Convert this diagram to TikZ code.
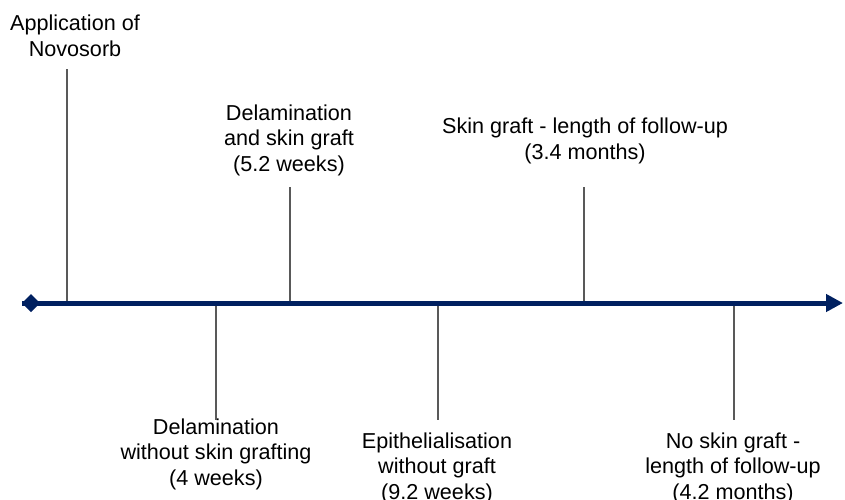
\documentclass[tikz,border=0pt]{standalone}
\usepackage{fontspec}
\setmainfont{Liberation Sans}
\usetikzlibrary{arrows.meta}
\definecolor{axisblue}{RGB}{0,32,96}
\definecolor{tickgray}{RGB}{89,89,89}

\begin{document}
\begin{tikzpicture}[x=1pt, y=-1pt,
    event/.style={align=center, inner sep=0pt, font=\fontsize{21.6}{25.5}\selectfont},
    tick/.style={draw=tickgray, line width=2pt}]
    \useasboundingbox (0,0) rectangle (845,499);
    % time axis
    \coordinate (s) at (22,303);
    \coordinate (e) at (843,303);
    \draw[line width=5pt, axisblue, {Diamond[length=18pt,width=18pt]}-{Triangle[length=17pt,width=17pt]}] (s) -- (e);
    % events above the axis
    \node[event] (1) at (75,36) {Application of\\Novosorb};
    \node[event] (2) at (289,140) {Delamination\\and skin graft\\(5.2 weeks)};
    \node[event] (3) at (585,141) {Skin graft - length of follow-up\\(3.4 months)};
    % events below the axis
    \node[event] (4) at (216,454) {Delamination\\without skin grafting\\(4 weeks)};
    \node[event] (5) at (437,468) {Epithelialisation\\without graft\\(9.2 weeks)};
    \node[event] (6) at (733,468) {No skin graft -\\length of follow-up\\(4.2 months)};
    % ticks
    \coordinate (a1) at (67,303);  \coordinate (b1) at (67,69);
    \coordinate (a2) at (290,303); \coordinate (b2) at (290,187);
    \coordinate (a3) at (584,303); \coordinate (b3) at (584,187);
    \coordinate (a4) at (216,303); \coordinate (b4) at (216,420);
    \coordinate (a5) at (438,303); \coordinate (b5) at (438,420);
    \coordinate (a6) at (734,303); \coordinate (b6) at (734,420);
    \foreach \i in {1,...,6}
        \draw[tick] (a\i) -- (b\i);
    % redraw axis on top of the ticks
    \draw[line width=5pt, axisblue] (s) -- ([xshift=-10pt]e);
\end{tikzpicture}
\end{document}
